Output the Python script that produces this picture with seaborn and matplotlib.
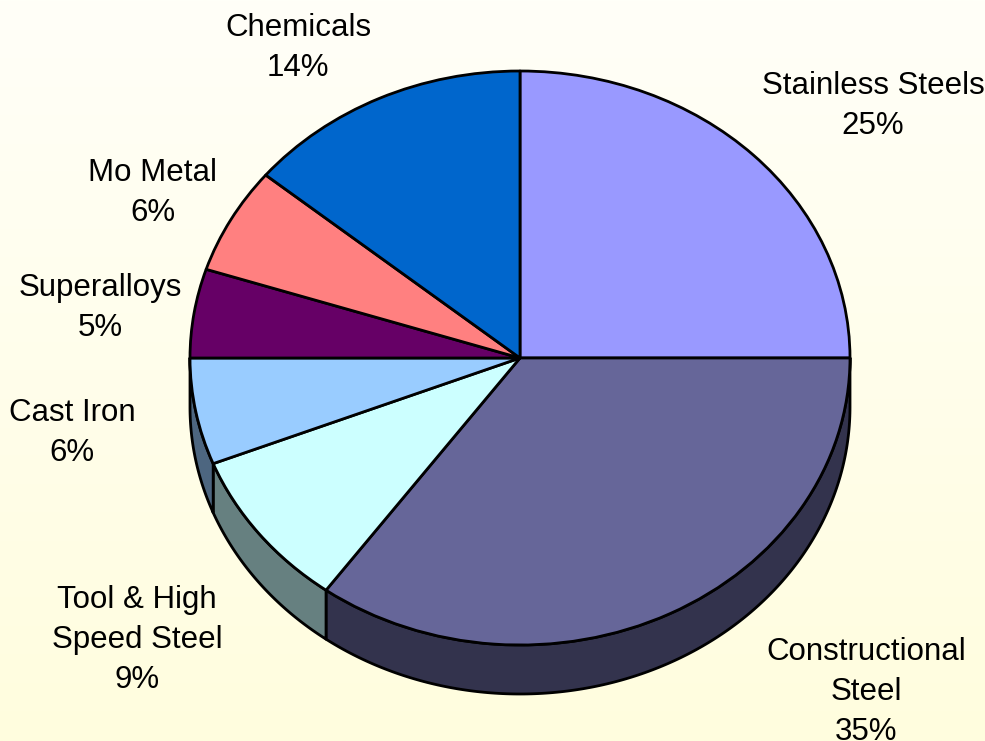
import numpy as np
import matplotlib
matplotlib.use("Agg")
import matplotlib.pyplot as plt
from matplotlib.colors import to_rgb
from matplotlib.patches import Polygon
import seaborn as sns

# Market shares by end use
categories = ["Stainless Steels", "Constructional\nSteel", "Tool & High\nSpeed Steel",
              "Cast Iron", "Superalloys", "Mo Metal", "Chemicals"]
shares = [25, 35, 9, 6, 5, 6, 14]
slice_colors = ["#9999FF", "#666699", "#CCFFFF", "#99CCFF", "#660066", "#FF8080", "#0066CC"]

# Label anchor points in figure pixels (x from left, y from top)
label_xy = [(873, 106), (866, 692), (137, 640), (72, 433), (100, 308), (153, 193), (298, 48)]

sns.set_theme(style="white")
plt.rcParams["font.family"] = ["Liberation Sans", "DejaVu Sans"]

W, H = 985, 741
fig = plt.figure(figsize=(W / 100, H / 100), dpi=100)

# Soft cream-to-yellow vertical background
bg = fig.add_axes([0, 0, 1, 1], zorder=0)
t = np.linspace(0, 1, 256)[:, None, None]
c_top = np.array(to_rgb("#FFFFF8"))
c_bot = np.array(to_rgb("#FFFDDE"))
bg.imshow(c_top + (c_bot - c_top) * t, aspect="auto", extent=[0, 1, 0, 1], origin="upper")
bg.set_axis_off()

# Pie axes: unit circle stretched into an ellipse to give a tilted look
ax = fig.add_axes([0, 0, 1, 1], zorder=1)
ax.patch.set_alpha(0)
cx, cy, rx, ry, depth = 520, 358, 330, 287, 49
d = depth / ry
lw = 2.0

wedges, _ = ax.pie(shares, colors=slice_colors, startangle=90, counterclock=False,
                   radius=1, center=(0, 0),
                   wedgeprops=dict(edgecolor="black", linewidth=lw, joinstyle="round"))

# Extruded rim on the front half of the pie
for w, col in zip(wedges, slice_colors):
    t1, t2 = w.theta1, w.theta2
    for k in (-1, 0, 1):
        lo = max(t1, -180 + 360 * k)
        hi = min(t2, 360 * k)
        if hi - lo <= 1e-6:
            continue
        ang = np.radians(np.linspace(lo, hi, 200))
        top = np.column_stack([np.cos(ang), np.sin(ang)])
        bot = np.column_stack([np.cos(ang), np.sin(ang) - d])[::-1]
        side = np.array(to_rgb(col)) * 0.5
        ax.add_patch(Polygon(np.vstack([top, bot]), closed=True, facecolor=side,
                             edgecolor="black", linewidth=lw, joinstyle="round", zorder=0.5))

ax.set_aspect("auto")
ax.set_xlim(-cx / rx, (W - cx) / rx)
ax.set_ylim((cy - H) / ry, cy / ry)
ax.set_axis_off()

for name, val, (px, py) in zip(categories, shares, label_xy):
    fig.text(px / W, 1 - py / H, f"{name}\n{val}%", ha="center", va="center",
             multialignment="center", fontsize=22.5, linespacing=1.45, color="black")

fig.savefig("out.png", dpi=100)
